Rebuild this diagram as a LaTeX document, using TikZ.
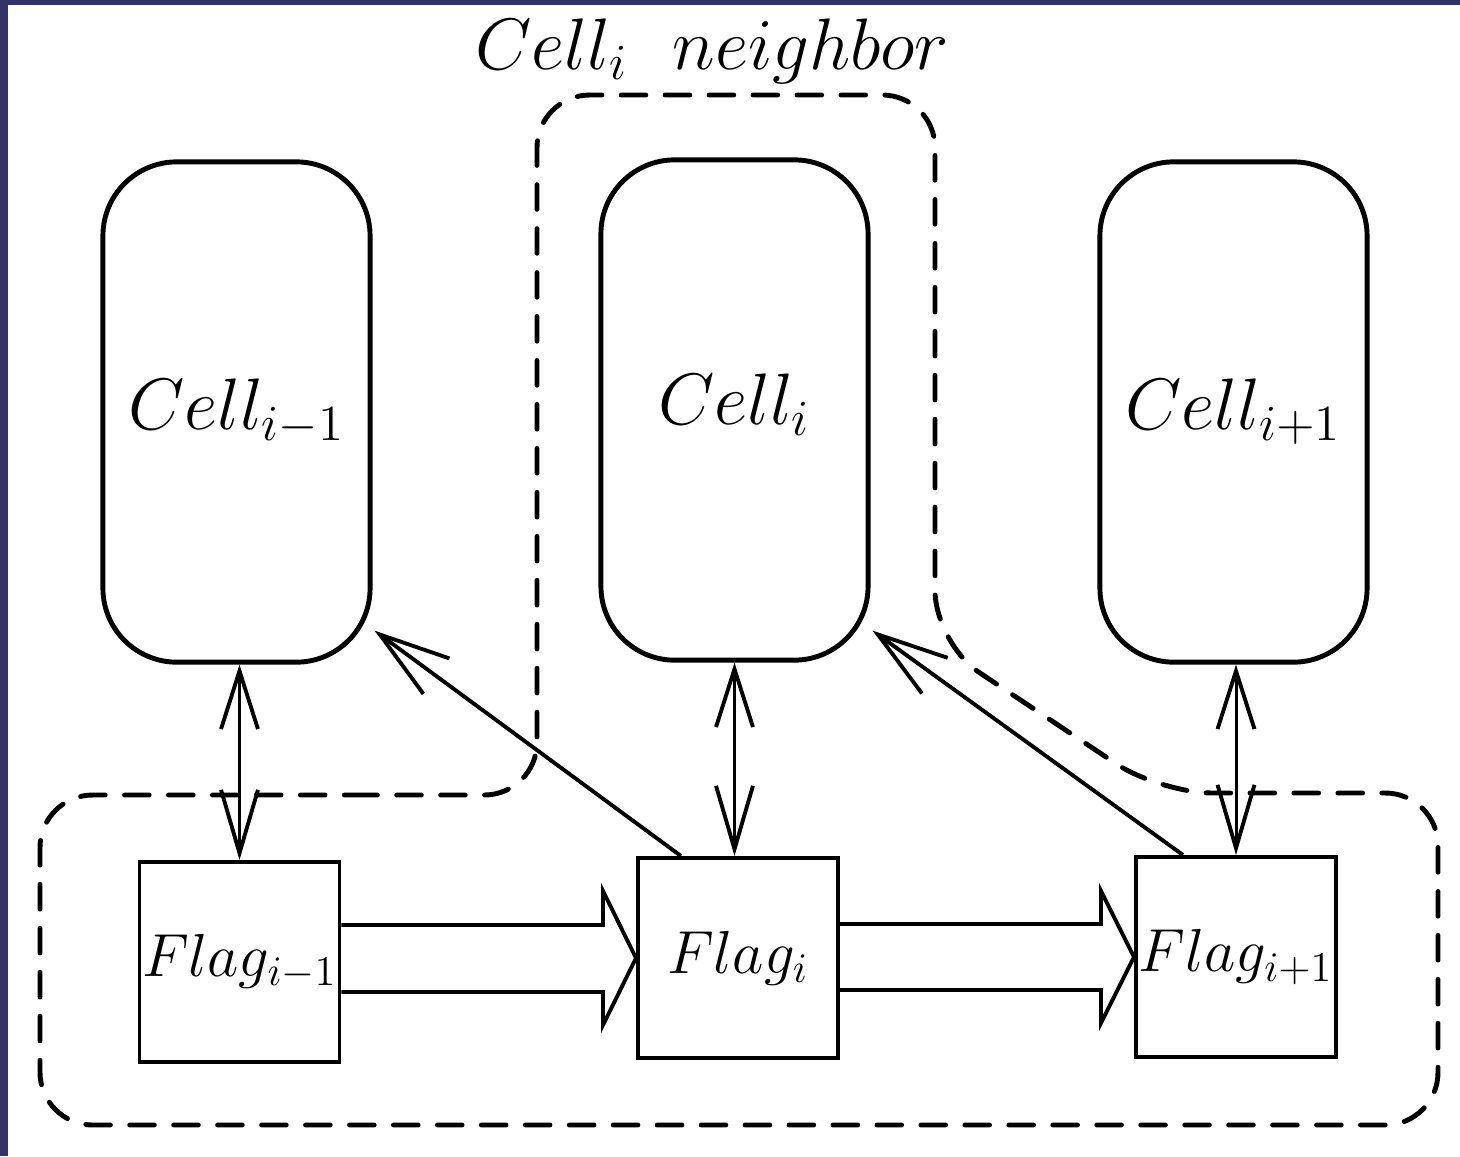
\documentclass[tikz,border=0pt]{standalone}
\usetikzlibrary{arrows.meta,calc}
\definecolor{frameblue}{RGB}{52,51,104}
\begin{document}
\begin{tikzpicture}[x=0.01cm,y=-0.01cm,
  bigfont/.style={font=\fontsize{20}{24}\selectfont},
  flagfont/.style={font=\fontsize{17.5}{21}\selectfont},
  cellbox/.style={draw,line width=1.4pt,rounded corners=21pt,
    minimum width=2.67cm,minimum height=5cm,inner sep=0pt,bigfont},
  flagbox/.style={draw,line width=1.1pt,minimum width=2cm,
    minimum height=2cm,inner sep=0pt,flagfont},
  lbl/.style={inner sep=0pt,font=\fontsize{19.5}{23}\selectfont},
  dbl/.style={line width=0.85pt,
    {Straight Barb[length=16.5pt,width=10.5pt,line width=1.1pt]}-{Straight Barb[length=18pt,width=10.5pt,line width=1.1pt]}},
  diag/.style={line width=1.1pt,
    -{Straight Barb[length=20pt,width=12.5pt,line width=1.1pt]}},
  fat/.style={line width=1.1pt,line join=miter},
  nbr/.style={line width=1.4pt,line cap=round,
    dash pattern=on 7pt off 5.5pt,rounded corners=15pt}]

% canvas with the dark frame strips
\useasboundingbox (0,0) rectangle (1460,1156);
\fill[white] (0,0) rectangle (1460,1156);
\fill[frameblue] (0,0) rectangle (8,1156);
\fill[frameblue] (0,0) rectangle (1460,5);

% cells
\node[cellbox] (c0) at (236.5,412) {$Cell_{i-1}$};
\node[cellbox] (c1) at (734.5,410) {\raisebox{6pt}{$Cell_i$}};
\node[cellbox] (c2) at (1233.5,412) {$Cell_{i+1}$};

% flags
\node[flagbox] (f0) at (239.5,962) {$Flag_{i-1}$};
\node[flagbox] (f1) at (738,958) {$Flag_i$};
\node[flagbox] (f2) at (1236,957) {$Flag_{i+1}$};

% neighbourhood outline and its label
\draw[nbr] (300,795) -- (537,795) -- (537,95) -- (935,95) -- (935,643)
  -- (1160,793) -- (1438,793) -- (1438,1125) -- (40,1125) -- (40,795) -- cycle;
\node[lbl,anchor=base west] (nb) at (475,69) {$Cell_i\hspace{0.65em}neighbor$};

% cell <-> flag links
\draw[dbl] (f0.north |- c0.south) -- (f0.north);
\draw[dbl] (c1.south) -- (c1.south |- f1.north);
\draw[dbl] (f2.north |- c2.south) -- (f2.north);

% flag -> previous cell
\coordinate (t0) at ($(c0.south east)+(2,-34)$);
\coordinate (t1) at ($(c1.south east)+(2,-32)$);
\draw[diag] ($(f1.north west)+(45,0)$) -- (t0);
\draw[diag] ($(f2.north west)+(49,0)$) -- (t1);

% hollow arrows flag -> next flag
\draw[fat] ($(f0.east |- f1.west)+(0,-33)$) -- ($(f1.west)+(-33,-33)$)
  -- ($(f1.west)+(-33,-67)$) -- (f1.west) -- ($(f1.west)+(-33,67)$)
  -- ($(f1.west)+(-33,34)$) -- ($(f0.east |- f1.west)+(0,34)$);
\draw[fat] ($(f1.east |- f2.west)+(0,-33)$) -- ($(f2.west)+(-33,-33)$)
  -- ($(f2.west)+(-33,-66)$) -- (f2.west) -- ($(f2.west)+(-33,66)$)
  -- ($(f2.west)+(-33,33)$) -- ($(f1.east |- f2.west)+(0,33)$);
\end{tikzpicture}
\end{document}
